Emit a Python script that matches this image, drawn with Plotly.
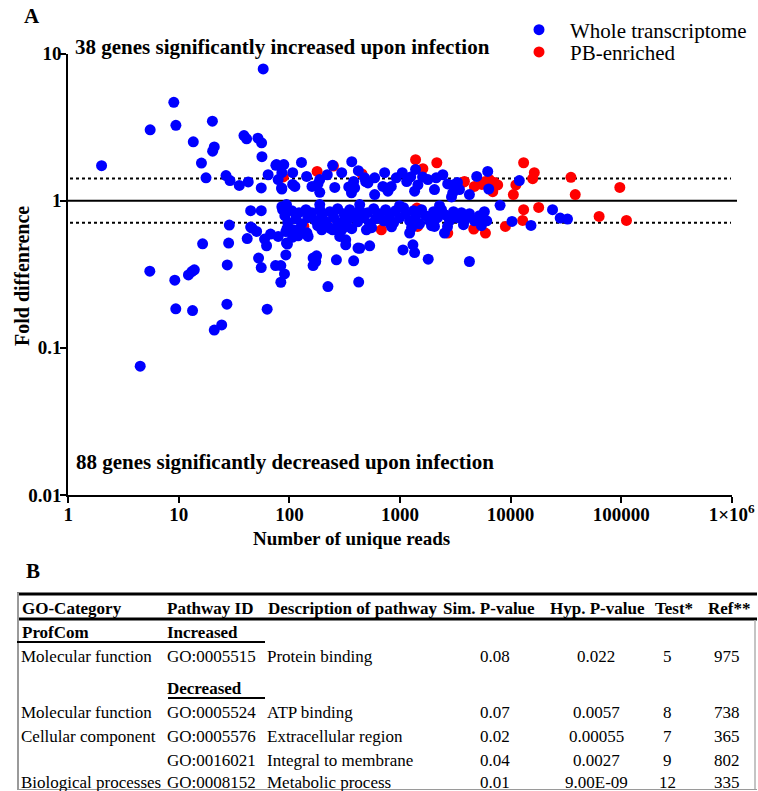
import plotly.graph_objects as go

W, H = 758, 791

# ---------------- data: panel A ----------------
blue_reads = [
    2.0, 5.5, 9.0, 9.4, 20.1, 13.5, 20.9, 20.2, 16.0, 17.6, 38.8, 41.0, 51.9, 56.0, 57.9, 56.4,
    26.7, 29.0, 35.2, 42.4, 55.6, 76.4, 88.9, 64.2, 79.1, 84.9, 75.4, 85.4, 107, 107, 85.4,
    128.5, 143, 188, 188, 246, 297, 257, 366, 344, 489, 590, 381, 181, 112, 364, 513, 726,
    590, 834, 925, 1049, 778, 1383, 1452, 1355, 1787, 2124, 2440, 2051, 3000, 479, 389,
    4943, 6213, 6346, 12000, 8040, 3100, 3451, 3311, 4246, 2923, 160, 220, 420, 700, 1150,
    1600, 2700, 1250,
    85.4, 90.9, 96.7, 105, 114, 122, 129, 141, 147, 159, 173, 188, 196, 213, 232, 252, 273,
    285, 310, 337, 351, 381, 414, 432, 469, 510, 532, 578, 602, 655, 711, 741, 805, 875, 912,
    991, 1077, 1123, 1221, 1326, 1383, 1503, 1567, 1703, 1850, 2011, 2185, 2374, 2580, 2803,
    3047, 3311, 3597, 3909, 4246, 4710, 5224, 5796,
    95, 124, 180, 262, 366, 554, 839, 1272, 1929, 2689, 3750, 432, 991, 2277, 188,
    5446, 6090, 5420, 10300, 15300, 23970, 28100, 32740,
    44.6, 55.6, 86.6, 28.6, 44.6, 50.5, 41.5, 59.6, 62.1, 67.5, 79.1, 16.4, 28.2, 27.4, 52.6,
    55.6, 74.9, 83.6, 90.2, 83.6, 92.8, 96.0, 5.46, 9.19, 12.2, 13.8, 13.1, 27.2, 9.38, 13.3,
    20.9, 24.4, 62.9, 4.47,
    163.7, 173, 223, 266, 381, 423, 4246,
    45.8, 92.8, 144, 107, 246, 297, 323, 432, 532, 196,
    94, 108, 94, 147.5, 120, 163.7, 176, 323, 417, 1064, 1309, 1355, 1800, 2527, 2051, 1222,
    805, 497, 285, 232, 195, 327,
]
blue_fold = [
    1.73, 3.03, 4.66, 3.25, 3.47, 2.51, 2.32, 2.17, 1.80, 1.43, 2.77, 2.63, 2.66, 2.47, 7.85, 1.99,
    1.48, 1.37, 1.27, 1.34, 1.22, 1.76, 1.76, 1.50, 1.39, 1.22, 1.74, 1.55, 1.55, 1.29, 1.20,
    1.82, 1.46, 1.39, 1.14, 1.74, 1.55, 1.23, 1.84, 1.24, 1.35, 1.43, 1.35, 1.30, 1.25, 1.13, 1.32, 1.55,
    1.10, 1.25, 1.43, 1.55, 1.16, 1.63, 1.28, 1.16, 1.39, 1.43, 1.50, 1.19, 1.13, 1.43, 1.22,
    1.46, 1.58, 1.20, 1.37, 0.929, 1.29, 1.19, 1.33, 1.10, 1.06, 1.25, 1.50, 1.60, 1.25, 1.35,
    1.45, 1.30, 1.45,
    0.91, 0.79, 0.71, 0.855, 0.754, 0.828, 0.697, 0.868, 0.766, 0.828, 0.73, 0.868, 0.79, 0.719, 0.841, 0.766, 0.882,
    0.708, 0.815, 0.742, 0.868, 0.79, 0.719, 0.855, 0.766, 0.828, 0.697, 0.882, 0.754, 0.815, 0.73, 0.868, 0.79, 0.708, 0.855,
    0.766, 0.896, 0.815, 0.73, 0.855, 0.778, 0.697, 0.868, 0.79, 0.73, 0.841, 0.766, 0.868, 0.80, 0.73,
    0.841, 0.766, 0.828, 0.754, 0.815, 0.73, 0.79, 0.841,
    0.645, 0.645, 0.676, 0.655, 0.645, 0.655, 0.665, 0.655, 0.676, 0.665, 0.687, 0.94, 0.925, 0.925, 0.94,
    0.676, 0.73, 0.72, 0.723, 0.679, 0.868, 0.762, 0.75,
    0.855, 0.855, 0.87, 0.683, 0.662, 0.618, 0.553, 0.548, 0.494, 0.593, 0.571, 0.509, 0.515, 0.366, 0.407,
    0.351, 0.362, 0.362, 0.318, 0.279, 0.428, 0.507, 0.332, 0.288, 0.313, 0.339, 0.330, 0.198, 0.184, 0.179,
    0.132, 0.143, 0.183, 0.075,
    0.362, 0.386, 0.261, 0.396, 0.39, 0.28, 0.386,
    0.652, 0.617, 0.605, 0.565, 0.634, 0.634, 0.542, 0.475, 0.493, 0.634,
    0.94, 0.634, 0.515, 0.571, 0.577, 0.407, 0.422, 0.501, 0.476, 0.463, 0.501, 0.444, 0.40, 0.602, 0.668, 0.602,
    0.705, 0.634, 0.571, 0.652, 0.668, 0.668,
]
red_reads = [
    1383, 1610, 2153, 5926, 7140, 6900, 7650, 4710, 3827, 13130, 16400, 15850, 10600, 35150,
    38460, 97300, 13130, 17950, 63240, 111700, 12860, 8980, 4645, 5926, 11170, 178, 453, 135,
    678, 1422, 2705, 6440, 5500, 3700, 215, 1442, 250, 88,
]
red_fold = [
    1.90, 1.65, 1.81, 1.35, 1.33, 1.15, 1.28, 1.25, 1.35, 1.81, 1.55, 1.41, 1.10, 1.44,
    1.10, 1.23, 0.868, 0.90, 0.782, 0.734, 0.734, 0.668, 0.641, 0.602, 1.28, 1.58, 1.52, 0.668,
    0.634, 0.89, 0.602, 1.39, 1.29, 1.33, 0.716, 0.668, 1.72, 1.45,
]
x_tickvals = [1, 10, 100, 1000, 10000, 100000, 1000000]
x_ticktext = ["1", "10", "100", "1000", "10000", "100000", "1×10<sup>6</sup>"]
y_tickvals = [0.01, 0.1, 1, 10]
y_ticktext = ["0.01", "0.1", "1", "10"]
baseline = 1.0
threshold_up = 1.414
threshold_down = 0.707
label_up = "38 genes significantly increased upon infection"
label_down = "88 genes significantly decreased upon infection"

# ---------------- data: panel B (table) ----------------
table_header = ["GO-Category", "Pathway ID", "Description of pathway", "Sim. P-value",
                "Hyp. P-value", "Test*", "Ref**"]
go_category = ["Molecular function", "Molecular function", "Cellular component", "",
               "Biological processes"]
pathway_id = ["GO:0005515", "GO:0005524", "GO:0005576", "GO:0016021", "GO:0008152"]
description = ["Protein binding", "ATP binding", "Extracellular region", "Integral to membrane",
               "Metabolic process"]
sim_p = ["0.08", "0.07", "0.02", "0.04", "0.01"]
hyp_p = ["0.022", "0.0057", "0.00055", "0.0027", "9.00E-09"]
test_n = ["5", "8", "7", "9", "12"]
ref_n = ["975", "738", "365", "802", "335"]

# ---------------- helpers ----------------
FONT = "Liberation Serif"


def px(x):
    return x / W


def py(y):
    return 1 - y / H


annotations = []


def ann(text, x, y, size, bold=False, xanchor="left", angle=0, yanchor="middle"):
    annotations.append(dict(
        text=("<b>%s</b>" % text) if bold else text,
        x=px(x), y=py(y), xref="paper", yref="paper", xanchor=xanchor, yanchor=yanchor,
        showarrow=False, textangle=angle, borderpad=0, borderwidth=0,
        font=dict(family=FONT, size=size, color="black"),
    ))


shapes = []


def hline_px(x0, x1, y, width=2, color="black"):
    shapes.append(dict(type="line", xref="paper", yref="paper", x0=px(x0), x1=px(x1),
                       y0=py(y), y1=py(y), line=dict(color=color, width=width)))


def vline_px(x, y0, y1, width=2, color="black"):
    shapes.append(dict(type="line", xref="paper", yref="paper", x0=px(x), x1=px(x),
                       y0=py(y0), y1=py(y1), line=dict(color=color, width=width)))


# ---------------- figure ----------------
fig = go.Figure()
fig.add_trace(go.Scatter(x=red_reads, y=red_fold, mode="markers", name="PB-enriched",
                         marker=dict(color="#FF0000", size=11, line=dict(width=0)),
                         legend="legend2", cliponaxis=False))
fig.add_trace(go.Scatter(x=blue_reads, y=blue_fold, mode="markers", name="Whole transcriptome",
                         marker=dict(color="#0000FF", size=11, line=dict(width=0)),
                         legend="legend", cliponaxis=False))

# reference lines (data y, paper x)
for yv, dash, x0, x1 in [(baseline, "solid", 68, 737), (threshold_up, "dot", 70, 731),
                         (threshold_down, "dot", 70, 731)]:
    shapes.append(dict(type="line", xref="paper", yref="y", x0=px(x0), x1=px(x1), y0=yv, y1=yv,
                       line=dict(color="black", width=2, dash=dash), layer="below"))

# panel A texts
ann("A", 32, 4, 21, bold=True, xanchor="center", yanchor="top")
ann(label_up, 75, 47, 21, bold=True)
ann(label_down, 76, 462, 21, bold=True)
ann("Number of unique reads", 351, 538, 19, bold=True, xanchor="center")
ann("Fold diffenrence", 22, 276, 20, bold=True, xanchor="center", angle=-90)

# panel B
ann("B", 32.5, 571, 21, bold=True, xanchor="center")
hline_px(17, 757, 594, width=3)
hline_px(17, 757, 619, width=3)
vline_px(18, 593, 790, width=2, color="#9a9a9a")
vline_px(755, 620, 790, width=1.5, color="#b0b0b0")
hline_px(17, 757, 789.5, width=1, color="#9a9a9a")
hline_px(17, 265, 642, width=2)
hline_px(168, 265, 698, width=2)

header_x = [22, 167, 268, 443, 550, 655, 708]
for t, xx in zip(table_header, header_x):
    ann(t, xx, 608, 17, bold=True)
ann("ProfCom", 22, 632.5, 17, bold=True)
ann("Increased", 167, 632.5, 17, bold=True)
ann("Decreased", 167, 688, 17, bold=True)

row_y = [656, 712.5, 736.5, 760, 782]
for i, yy in enumerate(row_y):
    if go_category[i]:
        ann(go_category[i], 21, yy, 17)
    ann(pathway_id[i], 167, yy, 17)
    ann(description[i], 267, yy, 17)
    ann(sim_p[i], 495, yy, 17, xanchor="center")
    ann(hyp_p[i], 596, yy, 17, xanchor="center")
    ann(test_n[i], 667, yy, 17, xanchor="center")
    ann(ref_n[i], 727, yy, 17, xanchor="center")

axis_common = dict(showline=True, linecolor="black", linewidth=2, ticks="outside",
                   ticklen=6, tickwidth=2, tickcolor="black", showgrid=False, zeroline=False,
                   tickfont=dict(family=FONT, size=19, color="black"))

fig.update_layout(
    width=W, height=H,
    margin=dict(l=0, r=0, t=0, b=0, autoexpand=False),
    paper_bgcolor="white", plot_bgcolor="white",
    xaxis=dict(type="log", range=[0, 6], domain=[px(68.3), px(731.7)],
               tickvals=x_tickvals, ticktext=["<b>%s</b>" % t for t in x_ticktext],
               ticklabelstandoff=-5, **axis_common),
    yaxis=dict(type="log", range=[-2, 1], domain=[py(495), py(53.5)],
               tickvals=y_tickvals, ticktext=["<b>%s</b>" % t for t in y_ticktext],
               ticklabelstandoff=-5, **axis_common),
    legend=dict(x=px(508), y=py(30), xanchor="left", yanchor="middle", itemwidth=52,
                bgcolor="rgba(0,0,0,0)", font=dict(family=FONT, size=21, color="black")),
    legend2=dict(x=px(508), y=py(52.3), xanchor="left", yanchor="middle", itemwidth=52,
                 bgcolor="rgba(0,0,0,0)", font=dict(family=FONT, size=21, color="black")),
    showlegend=True,
    annotations=annotations,
    shapes=shapes,
)

# remove the default page margin so that the 758x791 figure fills the window exactly
fig.write_html(
    "out.html",
    config={"displayModeBar": False},
    post_script="document.body.style.margin='0';"
                "document.documentElement.style.overflow='hidden';",
)
